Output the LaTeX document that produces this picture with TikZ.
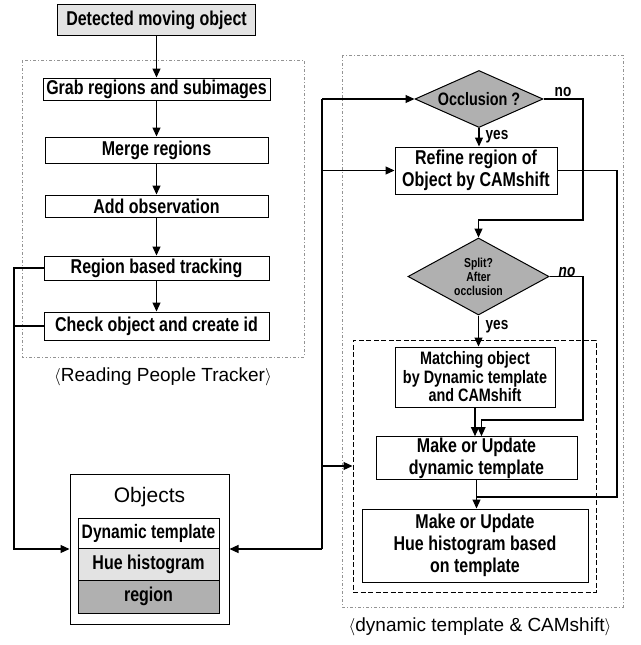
\documentclass[tikz,border=0pt]{standalone}
\usepackage{fontspec}
\setmainfont{Liberation Sans}
\newfontfamily\boxfont{Liberation Sans}[FakeStretch=0.8]
\usepackage{tikz}
\usetikzlibrary{arrows.meta}
\usetikzlibrary{shapes.geometric}
\colorlet{lightfill}{gray!22}
\colorlet{darkfill}{gray!62}
\tikzset{
  stepbox/.style={draw, line width=1pt, fill=white, inner sep=1pt, align=center, font=\boxfont\bfseries\fontsize{20}{22}\selectfont},
  decision/.style={draw, line width=1pt, diamond, fill=darkfill, inner sep=0pt, align=center, font=\boxfont\bfseries\fontsize{18}{20}\selectfont},
  flow/.style={line width=1.2pt},
  arr/.style={flow, -{Triangle[length=9pt,width=8pt]}},
  groupbox/.style={draw=gray!85, line width=0.8pt, dash pattern=on 3pt off 2pt on 1pt off 2pt},
  innerbox/.style={draw, line width=1pt, dash pattern=on 5pt off 2.5pt},
  caption/.style={font=\fontsize{19}{22}\selectfont},
  tag/.style={inner sep=1pt, font=\boxfont\bfseries\fontsize{17}{18}\selectfont}
}
\begin{document}
\begin{tikzpicture}[x=1pt,y=-1pt]
\useasboundingbox (0,0) rectangle (640,645);

% Reading People Tracker
\node[stepbox, fill=lightfill, minimum width=198pt, minimum height=31pt] (detect) at (156.5,20) {Detected moving object};
\draw[groupbox] (22,60) rectangle (304,357);
\node[stepbox, minimum width=227pt, minimum height=22pt] (grab) at (156.5,89) {Grab regions and subimages};
\node[stepbox, minimum width=223pt, minimum height=26pt] (merge) at (156.5,150) {Merge regions};
\node[stepbox, minimum width=223pt, minimum height=22pt] (addobs) at (156.5,206) {Add observation};
\node[stepbox, minimum width=225pt, minimum height=24pt] (track) at (156.5,268) {Region based tracking};
\node[stepbox, minimum width=225pt, minimum height=28pt] (check) at (156.5,326) {Check object and create id};
\node[caption] (rptcap) at (163,377) {$\langle$Reading People Tracker$\rangle$};
\foreach \a/\b in {detect/grab, grab/merge, merge/addobs, addobs/track, track/check}
  \draw[arr] (\a) -- (\b);

% Objects
\node[draw, line width=1pt, minimum width=159pt, minimum height=150pt] (objbox) at (149.5,549) {};
\node[font=\fontsize{21}{24}\selectfont] (objtitle) at (149.5,497) {Objects};
\node[stepbox, inner sep=0pt, minimum width=141pt, minimum height=30pt, font=\boxfont\bfseries\fontsize{19.5}{20}\selectfont] (dyntpl) at (148.5,533) {Dynamic template};
\node[stepbox, fill=lightfill, minimum width=141pt, minimum height=32pt] (huehist) at (148.5,564) {Hue histogram};
\node[stepbox, fill=darkfill, minimum width=141pt, minimum height=33pt] (regbox) at (148.5,596.5) {region};

\coordinate (lbus) at (14,549);
\draw[arr] (track.west) -| (lbus) -- (objbox.west);
\draw[flow] (check.west) -- (check.west -| lbus);

% dynamic template & CAMshift
\draw[groupbox] (342,55) rectangle (623,607);
\node[caption] (dtcap) at (480,627) {$\langle$dynamic template \& CAMshift$\rangle$};
\node[decision, aspect=2.25, minimum width=128pt, minimum height=57pt] (occl) at (479,99) {Occlusion ?};
\node[stepbox, minimum width=162pt, minimum height=47pt] (refine) at (476,170.5) {Refine region of\\Object by CAMshift};
\node[decision, aspect=1.83, minimum width=141pt, minimum height=77pt, font=\boxfont\bfseries\fontsize{13}{14}\selectfont] (split) at (478.5,276.5) {Split?\\After\\occlusion};
\node[innerbox, minimum width=243pt, minimum height=252pt] (inner) at (474.5,466) {};
\node[stepbox, minimum width=160pt, minimum height=60pt, font=\boxfont\bfseries\fontsize{18}{18.5}\selectfont] (matching) at (475,377) {Matching object\\by Dynamic template\\and CAMshift};
\node[stepbox, minimum width=201pt, minimum height=42pt] (mkdyn) at (476.5,458) {Make or Update\\dynamic template};
\node[stepbox, minimum width=226pt, minimum height=73pt] (mkhue) at (475,545.5) {Make or Update\\Hue histogram based\\on template};

\coordinate (rtop) at (322,99);
\coordinate (rbot) at (322,549);
\draw[flow] (rtop) -- (rbot);
\draw[arr] (rbot) -- (objbox.east);
\draw[arr] (rtop) -- (occl.west);
\draw[arr] (rtop |- refine.west) -- (refine.west);
\draw[arr] (rtop |- inner.west) -- (inner.west);

\draw[arr] (occl.south) -- (occl.south |- refine.north);
\node[tag] (yes1) at (497,137) {yes};
\coordinate (obus) at (583,220);
\draw[arr] (occl.east) -| (obus) -| (split.north);
\node[tag] (no1) at (563,92) {no};

\draw[arr] (split.south) -- (split.south |- matching.north);
\node[tag] (yes2) at (497,327) {yes};
\coordinate (sbus) at (583,420);
\draw[arr] (split.east) -| (sbus) -| ([xshift=5pt]mkdyn.north);
\node[tag, font=\boxfont\bfseries\itshape\fontsize{17}{18}\selectfont] (no2) at (567,272) {no};

\draw[arr] (matching.south) -- (matching.south |- mkdyn.north);
\draw[arr] (mkdyn.south) -- (mkdyn.south |- mkhue.north);
\coordinate (rbus) at (617,497);
\draw[flow] (refine.east) -| (rbus) -- (rbus -| mkdyn.south);
\end{tikzpicture}
\end{document}
